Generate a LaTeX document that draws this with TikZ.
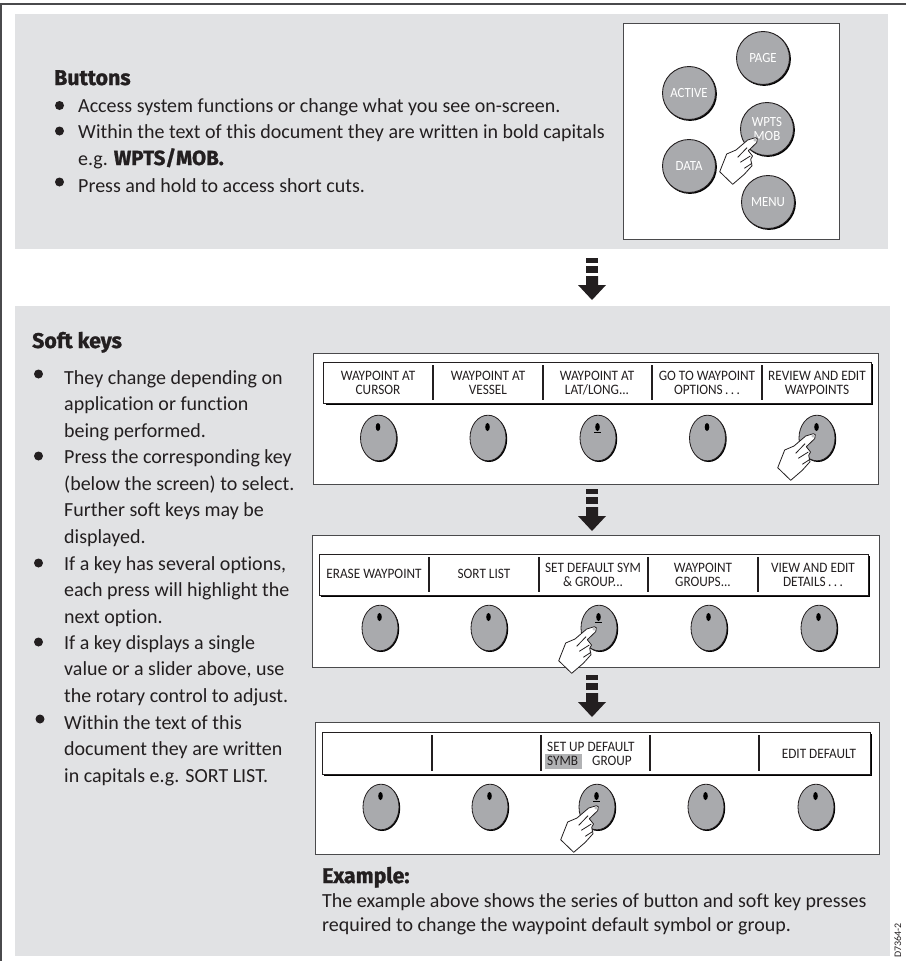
\documentclass[tikz,border=0pt]{standalone}
\usepackage{fontspec}
\setmainfont[Ligatures=NoCommon]{Carlito}
\newfontfamily\headfont[FakeBold=1.2]{Fira Sans Bold}
\newfontfamily\keyfont[Ligatures=NoCommon,FakeStretch=0.92]{Carlito}
\definecolor{panel}{HTML}{E1E2E4}
\definecolor{knobgray}{HTML}{A9AAAD}
\definecolor{ink}{HTML}{231F20}
\definecolor{hilite}{HTML}{B1B2B4}
\definecolor{framegray}{HTML}{4A4A4C}
\newcommand\para[5][250pt]{\node[anchor=base west,inner sep=0pt,text=ink] (#2) at (#3,#4) {\parbox[t]{#1}{\raggedright\fontsize{20}{26.5}\selectfont\strut #5}};}
\newcommand\headline[4]{\node[anchor=base west,inner sep=0pt,text=ink] (#1) at (#2,#3) {\fontsize{21.3}{24}\headfont #4};}
\newcommand\keylabel[4]{\node[anchor=base,inner sep=0pt,text=ink] (#1) at (#2,#3) {\parbox[t]{106pt}{\centering\keyfont\fontsize{14.4}{14.3}\selectfont #4}};}
\newcommand\softknob[2]{%
  \fill[black] (#1+1,#2+1) ellipse [x radius=18.2,y radius=23];
  \draw[fill=knobgray,draw=ink,line width=0.8pt] (#1,#2) ellipse [x radius=18,y radius=22.8];
  \fill[black] (#1-0.5,#2-11) ellipse [x radius=2.3,y radius=4];}
\newcommand\softknobmark[2]{\softknob{#1}{#2}\draw[black,line width=0.8pt] (#1-4,#2-5.5) -- (#1+3,#2-5.5);}
\newcommand\strip[9]{% x1 y1 x2 y2 d1 d2 d3 d4 panel-top-ignored
  \draw[black,line width=2pt] (#1+2,#4+1.3) -- (#3+1.3,#4+1.3) -- (#3+1.3,#2+2);
  \draw[draw=ink,fill=white,line width=0.8pt] (#1,#2) rectangle (#3,#4);
  \draw[ink,line width=1.3pt] (#5,#2+3) -- (#5,#4-3) (#6,#2+3) -- (#6,#4-3) (#7,#2+3) -- (#7,#4-3) (#8,#2+3) -- (#8,#4-3);}
\newcommand\stagearrow[2]{% cx, top of bars
  \fill[ink] (#1-6,#2) rectangle (#1+6,#2+5);
  \fill[ink] (#1-6,#2+8) rectangle (#1+6,#2+15);
  \fill[ink] (#1-6,#2+18) -- (#1+6,#2+18) -- (#1+6,#2+27) -- (#1+14,#2+27) -- (#1,#2+42) -- (#1-14,#2+27) -- (#1-6,#2+27) -- cycle;}
\tikzset{
  handpress/.pic={
    \draw[fill=white,draw=ink,line width=0.8pt,line join=round]
      (0.3,-2.3) -- (-7.3,0) -- (-19,10) -- (-28.3,14) -- (-35.3,31.7) -- (-22.3,44.3) -- (-10.7,34.3)
      -- (-3,25.7) -- (-4.3,19.3) -- (-2.5,16) -- (-6.7,10.7) -- (1.7,2.7) -- (2.3,-1.3) -- cycle;
    \draw[ink,line width=0.8pt] (-17.3,17.3) -- (-8,7.7) (-14.7,22.3) -- (-4.7,16) (-10.7,28.3) -- (-3,23.3);
    \draw[fill=white,draw=knobgray,line width=0.5pt] (0,0) circle (1.3);
  },
  mainbtn/.style={circle,minimum size=53pt,inner sep=0pt,draw=ink,line width=0.9pt,fill=knobgray,text=white,
    font=\keyfont\fontsize{14}{14}\selectfont,align=center}
}
\begin{document}
\begin{tikzpicture}[x=1pt,y=-1pt]
\useasboundingbox (0,0) rectangle (906,961);
% page frame
\draw[framegray,line width=1.5pt] (906,4) -- (1,4) -- (1,961);
% panels
\fill[panel] (15,14) rectangle (888,249);
\fill[panel] (15,306) rectangle (890,956);
% buttons panel
\draw[draw=framegray,fill=white,line width=0.9pt] (623,23) rectangle (839,239);
\foreach \cx/\cy in {763/58,689/93,767/129,689/166,768/202}{
  \fill[black] (\cx+1,\cy+1) circle (26.9);
}
\node[mainbtn] (page) at (763,58) {PAGE};
\node[mainbtn] (active) at (689,93) {ACTIVE};
\node[mainbtn] (wpts) at (767,129) {WPTS\\MOB};
\node[mainbtn] (data) at (689,166) {DATA};
\node[mainbtn] (menu) at (768,202) {MENU};
\pic at (755,140) {handpress};
\headline{hbuttons}{54}{85}{Buttons}
\fill[ink] (59.5,105.5) circle (4.5) (59.5,131) circle (4.5) (59.5,182) circle (4.5);
\para[540pt]{ptone}{78}{112}{Access system functions or change what you see on-screen.}
\para[540pt]{pttwo}{78}{138.5}{Within the text of this document they are written in bold capitals\\e.g. {\headfont\fontsize{20.5}{22}\selectfont WPTS/MOB.}}
\para[540pt]{ptthree}{78}{192}{Press and hold to access short cuts.}
\stagearrow{592}{258}
% soft keys text
\headline{hsoft}{32}{348}{Soft keys}
\fill[ink] (38.5,374) circle (4.5) (38.5,456) circle (4.5) (38.5,563) circle (4.5) (38.5,642) circle (4.5) (40,719) circle (4.5);
\para{sone}{64}{384}{They change depending on\\application or function\\being performed.}
\para{stwo}{64}{463.5}{Press the corresponding key\\(below the screen) to select.\\Further soft keys may be\\displayed.}
\para{sthree}{64}{570}{If a key has several options,\\each press will highlight the\\next option.}
\para{sfour}{64}{649}{If a key displays a single\\value or a slider above, use\\the rotary control to adjust.}
\para{sfive}{64}{729}{Within the text of this\\document they are written\\in capitals e.g. SORT LIST.}
% screen A
\draw[draw=framegray,fill=white,line width=0.9pt] (313,353) rectangle (878,484);
\strip{323.5}{362}{871}{403}{433}{543}{652}{762}{}
\keylabel{a1}{378}{380}{WAYPOINT AT\\CURSOR}
\keylabel{a2}{488}{380}{WAYPOINT AT\\VESSEL}
\keylabel{a3}{597}{380}{WAYPOINT AT\\LAT/LONG...}
\keylabel{a4}{707}{380}{GO TO WAYPOINT\\OPTIONS\,.\,.\,.}
\keylabel{a5}{817}{380}{REVIEW AND EDIT\\WAYPOINTS}
\softknob{378.5}{438}\softknob{488}{438}\softknobmark{598}{438}\softknob{707.5}{438}\softknob{817}{438}
\pic at (813,436) {handpress};
\stagearrow{592}{489}
% screen B
\draw[draw=framegray,fill=white,line width=0.9pt] (312,535) rectangle (879,667);
\strip{319}{554}{868}{595}{429}{539}{648}{758}{}
\keylabel{b1}{374}{578}{ERASE WAYPOINT}
\keylabel{b2}{484}{578}{SORT LIST}
\keylabel{b3}{593}{572}{SET DEFAULT SYM\\\& GROUP...}
\keylabel{b4}{703}{572}{WAYPOINT\\GROUPS...}
\keylabel{b5}{813}{572}{VIEW AND EDIT\\DETAILS\,.\,.\,.}
\softknob{380}{628}\softknob{489}{628}\softknobmark{599}{628}\softknob{709}{628}\softknob{819}{628}
\pic at (594,629) {handpress};
\stagearrow{592}{675}
% screen C
\draw[draw=framegray,fill=white,line width=0.9pt] (315,722) rectangle (879,854);
\strip{322}{732}{870}{774}{432}{541}{650}{759}{}
\fill[hilite] (545,754) rectangle (582,769);
\node[anchor=base west,inner sep=0pt,text=ink,font=\keyfont\fontsize{14.4}{14}\selectfont] (c3a) at (547,751) {SET UP DEFAULT};
\node[anchor=base west,inner sep=0pt,text=ink,font=\keyfont\fontsize{14.4}{14}\selectfont] (c3b) at (547,765) {SYMB};
\node[anchor=base west,inner sep=0pt,text=ink,font=\keyfont\fontsize{14.4}{14}\selectfont] (c3c) at (592,765) {GROUP};
\keylabel{c5}{819}{758}{EDIT DEFAULT}
\softknob{381}{807}\softknob{490}{807}\softknobmark{597}{807}\softknob{706}{807}\softknob{816}{807}
\pic at (596,808) {handpress};
% example
\headline{hex}{322}{883}{Example:}
\para[560pt]{pex}{322}{907}{The example above shows the series of button and soft key presses\\[-2pt]required to change the waypoint default symbol or group.}
\node[rotate=90,anchor=base west,inner sep=0pt,text=ink,font=\fontsize{10}{12}\selectfont] (code) at (901,958) {D7364-2};
\end{tikzpicture}
\end{document}
